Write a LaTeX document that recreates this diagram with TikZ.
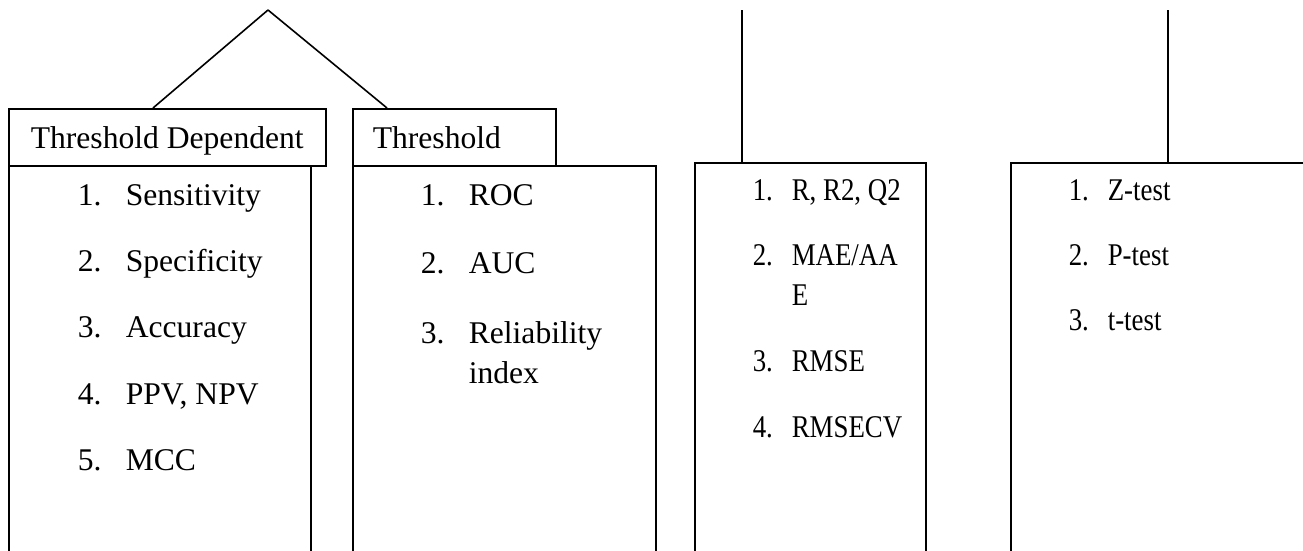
\documentclass[tikz,border=0pt]{standalone}
\usepackage{fontspec}
\setmainfont{Liberation Serif}
\newfontfamily\condserif[FakeStretch=0.85]{Liberation Serif}
\usetikzlibrary{calc}
\begin{document}
\begin{tikzpicture}[x=1pt,y=-1pt, line width=1.6pt,
  boxx/.style={draw, line width=1.6pt, rectangle, anchor=north west, inner sep=0pt},
  txt/.style={anchor=base west, inner sep=0pt, font=\fontsize{31.6}{38}\selectfont},
  stxt/.style={anchor=base west, inner sep=0pt, font=\condserif\fontsize{31.6}{38}\selectfont}]
\useasboundingbox (0,0) rectangle (1303,550);
\begin{scope}
\clip (0,0) rectangle (1303,550);
% box 1
\node[boxx, minimum width=302pt, minimum height=400pt] (b1) at (8,165) {};
\node[boxx, minimum width=317pt, minimum height=57pt, fill=white] (h1) at (8,108) {};
% box 2
\node[boxx, minimum width=303pt, minimum height=400pt] (b2) at (352,165) {};
\node[boxx, minimum width=203pt, minimum height=57pt, fill=white] (h2) at (352,108) {};
% box 3
\node[boxx, minimum width=231pt, minimum height=400pt] (b3) at (694,162) {};
% box 4
\node[boxx, minimum width=320pt, minimum height=400pt] (b4) at (1010,162) {};
\end{scope}
% connectors
\coordinate (apex) at (268,10);
\coordinate (top3) at (742,10);
\coordinate (top4) at (1168,10);
\draw (apex) -- ($(h1.north west)+(145,0)$);
\draw (apex) -- ($(h2.north west)+(35,0)$);
\draw (top3) -- (top3 |- b3.north);
\draw (top4) -- (top4 |- b4.north);
% header texts
\node[txt] (t1) at (30,148) {Threshold Dependent};
\node[txt] (t2) at (372,148) {Threshold};
% box 1 items
\node[txt] (n11) at (77,205) {1.};  \node[txt] (i11) at (125,205) {Sensitivity};
\node[txt] (n12) at (77,271) {2.};  \node[txt] (i12) at (125,271) {Specificity};
\node[txt] (n13) at (77,337) {3.};  \node[txt] (i13) at (125,337) {Accuracy};
\node[txt] (n14) at (77,404) {4.};  \node[txt] (i14) at (125,404) {PPV, NPV};
\node[txt] (n15) at (77,470) {5.};  \node[txt] (i15) at (125,470) {MCC};
% box 2 items
\node[txt] (n21) at (420,205) {1.};  \node[txt] (i21) at (468,205) {ROC};
\node[txt] (n22) at (420,273) {2.};  \node[txt] (i22) at (468,273) {AUC};
\node[txt] (n23) at (420,343) {3.};  \node[txt] (i23) at (468,343) {Reliability};
\node[txt] (i23b) at (468,383) {index};
% box 3 items
\node[stxt] (n31) at (752,200) {1.};  \node[stxt] (i31) at (791,200) {R, R2, Q2};
\node[stxt] (n32) at (752,265) {2.};  \node[stxt] (i32) at (791,265) {MAE/AA};
\node[stxt] (i32b) at (791,305) {E};
\node[stxt] (n33) at (752,371) {3.};  \node[stxt] (i33) at (791,371) {RMSE};
\node[stxt] (n34) at (752,437) {4.};  \node[stxt] (i34) at (791,437) {RMSECV};
% box 4 items
\node[stxt] (n41) at (1068,200) {1.};  \node[stxt] (i41) at (1107,200) {Z-test};
\node[stxt] (n42) at (1068,265) {2.};  \node[stxt] (i42) at (1107,265) {P-test};
\node[stxt] (n43) at (1068,330) {3.};  \node[stxt] (i43) at (1107,330) {t-test};
\end{tikzpicture}
\end{document}
